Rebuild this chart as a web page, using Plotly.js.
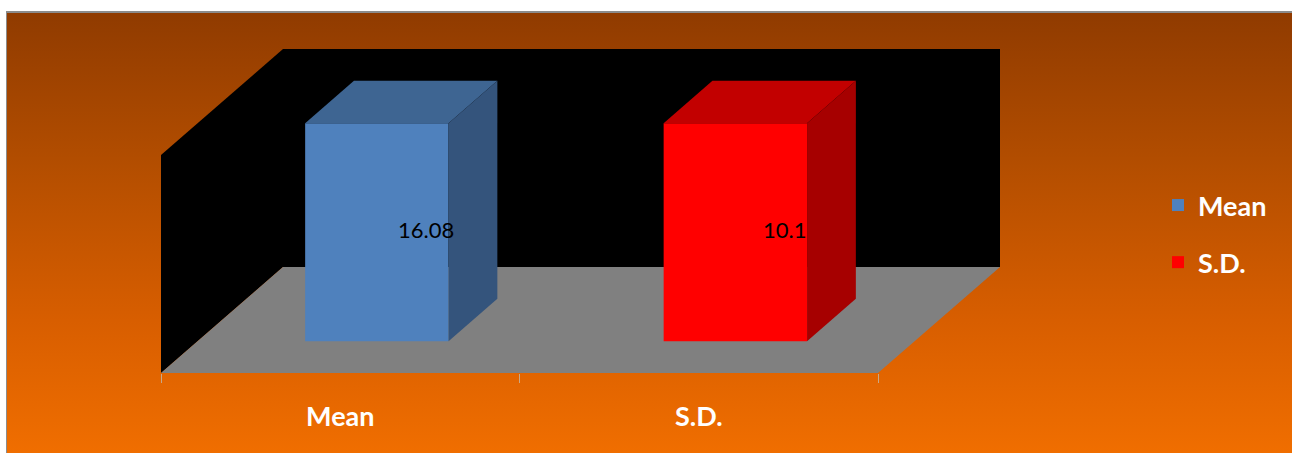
<!DOCTYPE html>
<html>
<head>
<meta charset="utf-8">
<script src="https://cdn.plot.ly/plotly-3.0.1.min.js"></script>
<style>
  html, body { margin: 0; padding: 0; background: #ffffff; width: 1292px; height: 453px; overflow: hidden; }
  #bg { position: absolute; left: 6px; top: 11px; right: 0; bottom: 0;
        border-left: 1px solid #8c8c8c; border-top: 2px solid #8c8c8c;
        background: linear-gradient(to bottom, #903b00 0%, #b44e00 35%, #d85e00 70%, #f06e00 100%); }
  #plot { position: absolute; left: 0; top: 0; width: 1292px; height: 453px; }
</style>
</head>
<body>
<div id="bg"></div>
<div id="plot"></div>
<script>
// ---- data ----
const categories = ['Mean', 'S.D.'];
const seriesNames = ['Mean', 'S.D.'];
const seriesValues = [16.08, 10.1];
const valueLabels = ['16.08', '10.1'];

// ---- style ----
const FRONT = ['#4F81BD', '#FF0000'];
const TOP = ['#3E6592', '#C20000'];
const SIDE = ['#34547C', '#A60000'];
const W = 1292, H = 453;
const PLOT_LEFT = 161, PLOT_BOTTOM = 373;
const CAT_PX = 358.5, WALL_PX = 218, DX_PX = 122, DY_PX = 106;
const BAR_FRAC = 0.4, BAR_DEPTH = 0.4, BAR_FRONT = 0.3;
const FONT = 'Lato, "Open Sans", sans-serif';

const dX = DX_PX / CAT_PX;
const plotW = DX_PX + 2 * CAT_PX;
const plotH = WALL_PX + DY_PX;
const xRange = [-0.5, -0.5 + (plotW) / CAT_PX];

const traces = [];
const annotations = [];
seriesValues.forEach((v, i) => {
  const yax = i === 0 ? 'y' : 'y2';
  const uy = v / WALL_PX;              // value units per pixel on this axis
  const base = BAR_FRONT * DY_PX * uy;
  const cx = i + BAR_FRONT * dX;
  const xl = cx - BAR_FRAC / 2, xr = cx + BAR_FRAC / 2;
  const yt = base + v;
  const ddx = BAR_DEPTH * dX, ddy = BAR_DEPTH * DY_PX * uy;
  traces.push({
    type: 'scatter', mode: 'lines', xaxis: 'x', yaxis: yax,
    x: [xl, xr, xr + ddx, xl + ddx, xl], y: [yt, yt, yt + ddy, yt + ddy, yt],
    fill: 'toself', fillcolor: TOP[i], line: { width: 0 }, showlegend: false, hoverinfo: 'skip'
  });
  traces.push({
    type: 'scatter', mode: 'lines', xaxis: 'x', yaxis: yax,
    x: [xr, xr + ddx, xr + ddx, xr, xr], y: [base, base + ddy, yt + ddy, yt, base],
    fill: 'toself', fillcolor: SIDE[i], line: { width: 0 }, showlegend: false, hoverinfo: 'skip'
  });
  traces.push({
    type: 'bar', name: seriesNames[i], legendgroup: 'g' + i, xaxis: 'x', yaxis: yax,
    x: [cx], y: [v], base: [base], width: [BAR_FRAC],
    marker: { color: FRONT[i], line: { width: 0 } }
  });
  annotations.push({
    xref: 'x', yref: yax, x: cx, y: base + v / 2, text: valueLabels[i], showarrow: false,
    xshift: 49, yshift: 3, font: { family: FONT, size: 22, color: '#000000' }
  });
});

const u0 = seriesValues[0] / WALL_PX;
const DY0 = DY_PX * u0, WALL0 = WALL_PX * u0;
const xL = -0.5, xR = categories.length - 0.5;
const shapes = [
  { type: 'path', xref: 'x', yref: 'y', layer: 'below', line: { width: 0 }, fillcolor: '#000000',
    path: `M${xL + dX},${DY0} L${xR + dX},${DY0} L${xR + dX},${DY0 + WALL0} L${xL + dX},${DY0 + WALL0} Z` },
  { type: 'path', xref: 'x', yref: 'y', layer: 'below', line: { width: 0 }, fillcolor: '#000000',
    path: `M${xL},0 L${xL + dX},${DY0} L${xL + dX},${DY0 + WALL0} L${xL},${WALL0} Z` },
  { type: 'path', xref: 'x', yref: 'y', layer: 'below', line: { width: 0 }, fillcolor: '#808080',
    path: `M${xL},0 L${xR},0 L${xR + dX},${DY0} L${xL + dX},${DY0} Z` }
];

const yDomain = [(H - PLOT_BOTTOM) / H, (H - PLOT_BOTTOM + plotH) / H];
const layout = {
  width: W, height: H,
  margin: { l: 0, r: 0, t: 0, b: 0, pad: 0 },
  paper_bgcolor: 'rgba(0,0,0,0)', plot_bgcolor: 'rgba(0,0,0,0)',
  barmode: 'overlay',
  showlegend: true,
  xaxis: {
    domain: [PLOT_LEFT / W, (PLOT_LEFT + plotW) / W], range: xRange, anchor: 'y',
    showgrid: false, zeroline: false, showline: false,
    tickmode: 'array', tickvals: categories.map((c, i) => i), ticktext: categories, ticks: '',
    ticklabelstandoff: 25,
    tickfont: { family: FONT, size: 27, color: '#ffffff', weight: 700 },
    minor: { tickmode: 'array', tickvals: [-0.5, 0.5, 1.5], ticks: 'outside', ticklen: 9,
             tickwidth: 1, tickcolor: '#c8a888', showgrid: false }
  },
  yaxis: { domain: yDomain, range: [0, seriesValues[0] * plotH / WALL_PX], visible: false, fixedrange: true },
  yaxis2: { overlaying: 'y', range: [0, seriesValues[1] * plotH / WALL_PX], visible: false, fixedrange: true },
  legend: {
    x: 1158 / W, xanchor: 'left', y: (H - 181) / H, yanchor: 'top',
    bgcolor: 'rgba(0,0,0,0)', tracegroupgap: 19, traceorder: 'grouped',
    font: { family: FONT, size: 27, color: '#ffffff', weight: 700 }
  },
  shapes: shapes,
  annotations: annotations,
  hovermode: false
};

Plotly.newPlot('plot', traces, layout, { staticPlot: true, displayModeBar: false });
</script>
</body>
</html>
